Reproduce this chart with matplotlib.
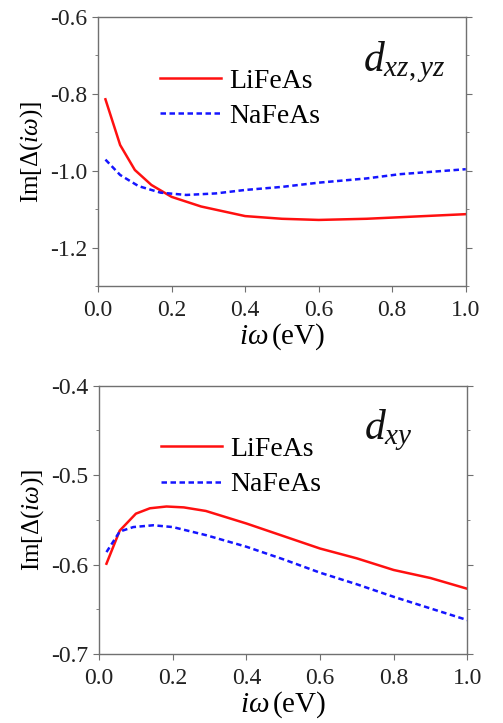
import matplotlib
matplotlib.use('Agg')
import matplotlib.pyplot as plt
from matplotlib.font_manager import FontProperties

plt.rcParams['font.family'] = ['Liberation Serif']
plt.rcParams['mathtext.fontset'] = 'custom'
plt.rcParams['mathtext.rm'] = 'Liberation Serif'
plt.rcParams['mathtext.it'] = 'Liberation Serif:italic'

# dados
x_xz_li = [0.02, 0.06, 0.10, 0.145, 0.20, 0.28, 0.40, 0.50, 0.60, 0.73, 0.82, 1.0]
y_xz_li = [-0.814, -0.933, -0.998, -1.037, -1.068, -1.093, -1.118, -1.125, -1.128, -1.125, -1.121, -1.113]
x_xz_na = [0.02, 0.06, 0.11, 0.17, 0.24, 0.32, 0.40, 0.50, 0.60, 0.73, 0.82, 1.0]
y_xz_na = [-0.971, -1.011, -1.040, -1.057, -1.063, -1.059, -1.050, -1.042, -1.031, -1.020, -1.009, -0.996]

x_xy_li = [0.02, 0.056, 0.10, 0.138, 0.183, 0.23, 0.29, 0.40, 0.50, 0.60, 0.70, 0.80, 0.90, 1.0]
y_xy_li = [-0.599, -0.562, -0.543, -0.537, -0.535, -0.536, -0.540, -0.554, -0.568, -0.582, -0.593, -0.606, -0.615, -0.627]
x_xy_na = [0.02, 0.056, 0.093, 0.147, 0.20, 0.29, 0.40, 0.50, 0.60, 0.70, 0.80, 0.90, 1.0]
y_xy_na = [-0.586, -0.563, -0.558, -0.556, -0.558, -0.567, -0.580, -0.594, -0.609, -0.622, -0.636, -0.649, -0.662]

xticks = [0.0, 0.2, 0.4, 0.6, 0.8, 1.0]

fonte = 'Liberation Serif'

fig = plt.figure(figsize=(5.03, 7.23), dpi=100)
ax1 = fig.add_axes([0.195, 0.6044, 0.731, 0.372])
ax2 = fig.add_axes([0.197, 0.0954, 0.732, 0.371])

paineis = [
    (ax1, x_xz_li, y_xz_li, x_xz_na, y_xz_na, (-1.3, -0.6), [-1.2, -1.0, -0.8, -0.6], 0.1, r'$d_{xz,yz}$'),
    (ax2, x_xy_li, y_xy_li, x_xy_na, y_xy_na, (-0.7, -0.4), [-0.7, -0.6, -0.5, -0.4], 0.05, r'$d_{xy}$'),
]

for ax, xl, yl, xn, yn, ylim, yticks, meio, rotulo in paineis:
    ax.plot(xl, yl, color='#ff1010', lw=1.8, label='LiFeAs')
    ax.plot(xn, yn, color='#1515ff', lw=1.8, ls=(0, (2.2, 1.4)), label='NaFeAs')
    ax.set_xlim(0, 1.0)
    ax.set_ylim(*ylim)
    ax.set_xticks(xticks)
    ax.set_xticklabels(['%.1f' % v for v in xticks], family=fonte, fontsize=17, color='#222222')
    ax.set_yticks(yticks)
    ax.set_yticklabels(['%.1f' % v for v in yticks], family=fonte, fontsize=17, color='#222222')
    minor = [v - meio for v in yticks if v - meio > ylim[0] - 1e-9]
    ax.set_yticks(minor, minor=True)
    for s in ax.spines.values():
        s.set_color('#707070')
        s.set_linewidth(1.0)
    ax.tick_params(axis='both', which='both', direction='out', color='#707070')
    ax.tick_params(axis='both', which='major', length=4)
    ax.tick_params(axis='x', which='major', pad=6)
    ax.tick_params(axis='y', which='minor', length=2)
    ax.tick_params(axis='y', right=True, which='both')
    ax.set_xlabel(r'$i\omega\,$(eV)', fontsize=21, labelpad=0, family=fonte)
    ax.set_ylabel(r'Im$[\Delta(i\omega)]$', fontsize=18, labelpad=4, family=fonte)
    ax.legend(loc='upper left', bbox_to_anchor=(0.168, 0.81), frameon=False,
              prop=FontProperties(family=fonte, size=20), handlelength=2.2,
              handletextpad=0.3, labelspacing=0.35, borderaxespad=0, borderpad=0)
    ax.text(0.72, 0.80, rotulo, transform=ax.transAxes, fontsize=30, color='#111111')

fig.savefig('out.png', dpi=100)
